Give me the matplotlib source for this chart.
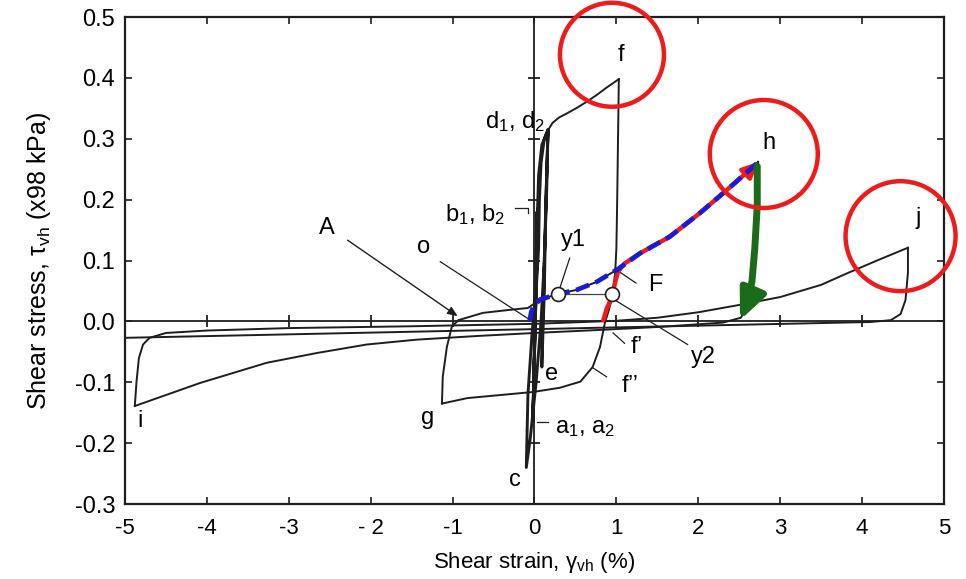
import numpy as np
import matplotlib
matplotlib.use("Agg")
import matplotlib.pyplot as plt
from matplotlib.patches import Ellipse, FancyArrowPatch
from matplotlib.path import Path

plt.rcParams['font.family'] = ['Liberation Sans', 'DejaVu Sans']
plt.rcParams['mathtext.fontset'] = 'custom'
plt.rcParams['mathtext.rm'] = 'Liberation Sans'
plt.rcParams['mathtext.it'] = 'Liberation Sans:italic'

# ---- axis ticks ----
x_ticks = [-5, -4, -3, -2, -1, 0, 1, 2, 3, 4, 5]
x_tick_labels = ['-5', '-4', '-3', '- 2', '-1', '0', '1', '2', '3', '4', '5']
y_ticks = [-0.3, -0.2, -0.1, 0.0, 0.1, 0.2, 0.3, 0.4, 0.5]
y_tick_labels = ['-0.3', '-0.2', '-0.1', '0.0', '0.1', '0.2', '0.3', '0.4', '0.5']
inner_x_ticks = [-4, -3, -2, -1, 1, 2, 3, 4]
inner_y_ticks = [-0.2, -0.1, 0.1, 0.2, 0.3, 0.4]

# ---- stress–strain history (strain %, stress x98 kPa) ----
# small-amplitude cycles around the origin (a, b, c, d, e)
cyc_x = [0.0, 0.02, 0.03, 0.01, -0.01, -0.02, 0.00, 0.03, 0.04, 0.02, -0.01, -0.02,
         0.01, 0.03, 0.05, 0.09, 0.165, 0.15, 0.12, 0.08, 0.02, -0.05, -0.10, -0.08,
         -0.03, 0.02, 0.05, 0.06, 0.08, 0.12, 0.165, 0.14, 0.12, 0.11, 0.09, 0.09,
         0.12, 0.14, 0.165]
cyc_y = [0.0, 0.10, 0.18, 0.05, -0.10, -0.165, -0.05, 0.10, 0.185, 0.05, -0.10, -0.165,
         0.00, 0.15, 0.24, 0.29, 0.314, 0.22, 0.10, 0.00, -0.10, -0.19, -0.24, -0.12,
         -0.02, 0.05, 0.12, 0.20, 0.26, 0.30, 0.315, 0.20, 0.10, 0.04, -0.03, -0.075,
         0.05, 0.20, 0.314]
# loading d -> f
df_x = [0.165, 0.22, 0.30, 0.40, 0.52, 0.64, 0.76, 0.88, 1.03]
df_y = [0.314, 0.326, 0.335, 0.342, 0.351, 0.361, 0.372, 0.384, 0.398]
# unloading f -> f' -> f'' -> g
fg_x = [1.03, 1.02, 1.01, 1.00, 0.985, 0.95, 0.90, 0.86, 0.80, 0.71, 0.56, 0.31,
        -0.02, -0.42, -0.82, -1.13]
fg_y = [0.398, 0.30, 0.20, 0.12, 0.08, 0.04, 0.015, -0.002, -0.042, -0.075, -0.099,
        -0.109, -0.116, -0.121, -0.126, -0.135]
# reloading g -> A (lower part)
gA_x = [-1.13, -1.12, -1.07, -1.01, -0.93, -0.63, -0.30, -0.08]
gA_y = [-0.135, -0.091, -0.042, -0.009, 0.002, 0.014, 0.019, 0.022]
# reloading branch towards h (shared by the highlighted paths)
up_x = [0.07, 0.29, 0.52, 0.76, 1.02, 1.29, 1.65, 2.02, 2.35, 2.67, 2.73]
up_y = [0.036, 0.045, 0.052, 0.065, 0.086, 0.112, 0.139, 0.178, 0.216, 0.254, 0.262]
# unloading h -> i
hi_x = [2.73, 2.72, 2.71, 2.68, 2.62, 2.52, 2.30, 1.53, 0.80, 0.00, -0.70, -1.44,
        -2.05, -2.66, -3.27, -4.08, -4.88]
hi_y = [0.262, 0.20, 0.13, 0.07, 0.03, 0.006, -0.002, -0.009, -0.014, -0.019, -0.024,
        -0.030, -0.038, -0.052, -0.068, -0.101, -0.139]
# reloading i -> j
ij_x = [-4.88, -4.86, -4.83, -4.78, -4.70, -4.50, -4.00, -3.00, -1.50, 0.00, 1.00,
        1.50, 2.00, 2.50, 3.00, 3.50, 3.80, 4.20, 4.56]
ij_y = [-0.139, -0.10, -0.06, -0.038, -0.027, -0.019, -0.015, -0.011, -0.008, -0.004,
        0.001, 0.006, 0.015, 0.027, 0.040, 0.060, 0.078, 0.101, 0.121]
# unloading j -> end
jk_x = [4.56, 4.56, 4.53, 4.47, 4.35, 4.10, -5.00]
jk_y = [0.121, 0.08, 0.035, 0.012, 0.002, -0.001, -0.027]

# highlighted paths
blue_head_x = [-0.06, -0.04, -0.01]
blue_head_y = [0.0, 0.015, 0.026]
red_head_x = [0.84, 0.885, 0.946, 0.983, 1.02, 1.10]
red_head_y = [0.002, 0.022, 0.040, 0.063, 0.082, 0.095]
green_x = [2.72, 2.72, 2.69, 2.655, 2.60, 2.51]
green_y = [0.255, 0.19, 0.12, 0.065, 0.03, 0.002]

# yield points
y1_pt = (0.29, 0.045)
y2_pt = (0.95, 0.045)

INK = '#1e1e1e'

fig = plt.figure(figsize=(9.66, 5.79), dpi=100)
ax = fig.add_axes([0.1294, 0.1295, 0.8478, 0.8411])
ax.set_xlim(-5, 5)
ax.set_ylim(-0.3, 0.5)

# inner axes through the origin with their own tick marks
ax.axhline(0, color=INK, lw=1.3, zorder=2)
ax.axvline(0, color=INK, lw=1.3, zorder=2)
ax.plot(inner_x_ticks, [0] * len(inner_x_ticks), ls='none', marker='|',
        ms=9, mew=1.3, color=INK, zorder=2)
ax.plot([0] * len(inner_y_ticks), inner_y_ticks, ls='none', marker='_',
        ms=9, mew=1.3, color=INK, zorder=2)

# measured curves
ax.plot(cyc_x, cyc_y, color=INK, lw=2.1, zorder=3)
for xs, ys in [(df_x, df_y), (fg_x, fg_y), (gA_x + up_x, gA_y + up_y),
               (hi_x, hi_y), (ij_x, ij_y), (jk_x, jk_y)]:
    ax.plot(xs, ys, color=INK, lw=1.4, zorder=3)

# highlighted reloading path (red, solid) and idealised path (blue, dashed)
red_x = red_head_x + up_x[5:]
red_y = red_head_y + up_y[5:]
red_arrow = FancyArrowPatch(path=Path(np.column_stack([red_x, red_y])),
                            arrowstyle='-|>,head_length=0.45,head_width=0.22',
                            mutation_scale=20, color='#ee1b1b', lw=3.2, zorder=5)
ax.add_patch(red_arrow)
ax.plot(blue_head_x + up_x, blue_head_y + up_y, color='#1a1ad8', lw=3.4,
        dashes=(3.0, 1.4), zorder=6)

# green unloading arrow from h
green_arrow = FancyArrowPatch(path=Path(np.column_stack([green_x, green_y])),
                              arrowstyle='-|>,head_length=0.9,head_width=0.4',
                              mutation_scale=20, color='#1b6b1b', lw=5, zorder=7)
ax.add_patch(green_arrow)

# yield points y1, y2 joined by a thin line
ax.plot([y1_pt[0], y2_pt[0]], [y1_pt[1], y2_pt[1]], color='#444444', lw=0.9, zorder=4)
ax.plot([y1_pt[0], y2_pt[0]], [y1_pt[1], y2_pt[1]], ls='none', marker='o', ms=10,
        mfc='white', mec=INK, mew=1.2, zorder=8)

# red circles around the peaks f, h, j (round on screen)
sx = 81.9   # px per % strain
sy = 609.0  # px per stress unit
for cx, cy, r in [(0.946, 0.438, 52), (2.80, 0.275, 54), (4.47, 0.140, 55)]:
    ax.add_patch(Ellipse((cx, cy), 2 * r / sx, 2 * r / sy, fill=False,
                         ec='#ee1b1b', lw=3.2, clip_on=False, zorder=9))

# point labels
fs = 17
txt = dict(fontsize=fs, color='black', zorder=10)
ax.text(1.06, 0.437, 'f', ha='center', va='center', **txt)
ax.text(2.86, 0.293, 'h', ha='center', va='center', **txt)
ax.text(4.69, 0.170, 'j', ha='center', va='center', **txt)
ax.text(-4.82, -0.163, 'i', ha='center', va='center', **txt)
ax.text(-1.31, -0.159, 'g', ha='center', va='center', **txt)
ax.text(-0.24, -0.260, 'c', ha='center', va='center', **txt)
ax.text(0.21, -0.087, 'e', ha='center', va='center', **txt)
ax.text(0.13, 0.328, 'd$_1$, d$_2$', ha='right', va='center', **txt)
ax.text(-0.36, 0.176, 'b$_1$, b$_2$', ha='right', va='center', **txt)
ax.text(0.25, -0.175, 'a$_1$, a$_2$', ha='left', va='center', **txt)
ax.text(-2.53, 0.153, 'A', ha='center', va='center', **txt)
ax.text(-1.35, 0.122, 'o', ha='center', va='center', **txt)
ax.text(0.47, 0.134, 'y1', ha='center', va='center', **txt)
ax.text(1.47, 0.060, 'F', ha='center', va='center', **txt)
ax.text(2.06, -0.058, 'y2', ha='center', va='center', **txt)
ax.text(1.25, -0.042, "f’", ha='center', va='center', **txt)
ax.text(1.17, -0.106, "f’’", ha='center', va='center', **txt)

# leader lines
lead = dict(color=INK, lw=0.9, zorder=4)
ax.plot([-1.15, -0.05], [0.098, 0.002], **lead)            # o
ax.plot([0.43, 0.31], [0.104, 0.055], **lead)             # y1
ax.plot([0.97, 1.87], [0.036, -0.038], **lead)            # y2
ax.plot([1.03, 1.24], [0.082, 0.063], **lead)             # F
ax.plot([0.96, 1.10], [-0.019, -0.036], **lead)           # f'
ax.plot([0.71, 0.88], [-0.076, -0.091], **lead)           # f''
ax.plot([0.03, 0.16], [-0.165, -0.165], **lead)           # a1, a2
ax.plot([-0.24, -0.08, -0.08], [0.186, 0.186, 0.178], **lead)  # b1, b2
ax.annotate('', xy=(-0.91, 0.006), xytext=(-2.31, 0.136),
            arrowprops=dict(arrowstyle='-|>,head_length=0.6,head_width=0.25',
                            color=INK, lw=1.0), zorder=10)

# frame and ticks
for sp in ax.spines.values():
    sp.set_linewidth(1.6)
    sp.set_color(INK)
ax.set_xticks(x_ticks)
ax.set_xticklabels(x_tick_labels)
ax.set_yticks(y_ticks)
ax.set_yticklabels(y_tick_labels)
ax.tick_params(direction='in', top=True, right=True, length=5, width=1.2,
               color=INK)
ax.tick_params(axis='x', pad=10, labelsize=16)
ax.tick_params(axis='y', pad=7, labelsize=17)

ax.set_xlabel('Shear strain, γ$_{\\rm vh}$ (%)', fontsize=16, labelpad=8)
ax.set_ylabel('Shear stress, τ$_{\\rm vh}$ (x98 kPa)', fontsize=18, labelpad=16)

fig.savefig('out.png', dpi=100)
